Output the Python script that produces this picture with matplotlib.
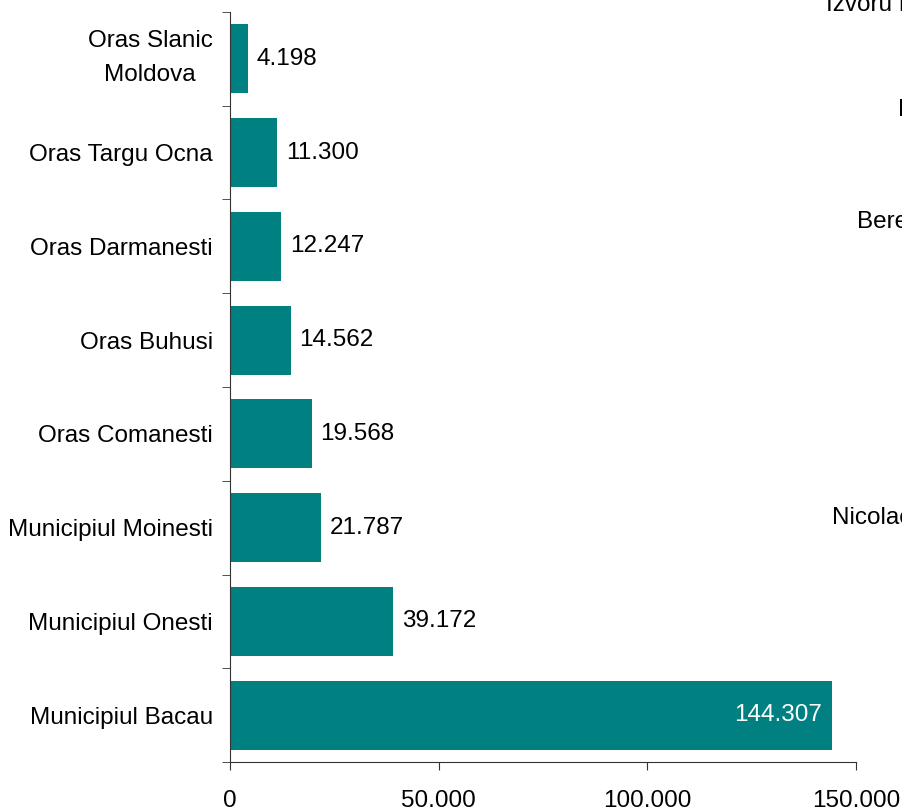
import matplotlib.pyplot as plt
from matplotlib.ticker import FuncFormatter
from matplotlib.transforms import ScaledTranslation

plt.rcParams['font.family'] = ['Liberation Sans', 'DejaVu Sans']

# populatie pe orase (de jos in sus)
orase = ['Municipiul Bacau', 'Municipiul Onesti', 'Municipiul Moinesti',
         'Oras Comanesti', 'Oras Buhusi', 'Oras Darmanesti',
         'Oras Targu Ocna', 'Oras Slanic\nMoldova']
populatie = [144307, 39172, 21787, 19568, 14562, 12247, 11300, 4198]
xticks = [0, 50000, 100000, 150000]

culoare = '#008080'
fs = 17.5


def fmt(v):
    return f"{v:,.0f}".replace(',', '.')


fig = plt.figure(figsize=(9.03, 8.08), dpi=100)
ax = fig.add_axes([230/903, 1-762/808, 626/903, 750/808])

y = range(len(orase))
ax.barh(y, populatie, height=0.735, color=culoare)
ax.set_xlim(0, 150000)
ax.set_ylim(-0.5, len(orase) - 0.5)

for i, v in enumerate(populatie):
    if v > 100000:
        ax.text(v - 2500, i, fmt(v), ha='right', va='center', color='white', fontsize=fs)
    else:
        ax.text(v + 2100, i, fmt(v), ha='left', va='center', color='black', fontsize=fs)

ax.set_yticks(list(y))
ax.set_yticklabels(orase, fontsize=fs, linespacing=1.7, multialignment='center')
ax.tick_params(axis='y', length=0, pad=12.5)
ax.set_yticks([i - 0.5 for i in range(len(orase) + 1)], minor=True)
ax.tick_params(axis='y', which='minor', length=6, direction='out', color='#333333')

# eticheta pe doua randuri sta putin mai sus
lab = ax.get_yticklabels()[-1]
lab.set_transform(lab.get_transform() + ScaledTranslation(0, 0.09, fig.dpi_scale_trans))

ax.set_xticks(xticks)
ax.xaxis.set_major_formatter(FuncFormatter(lambda v, p: fmt(v)))
ax.tick_params(axis='x', labelsize=fs, length=6, direction='out', pad=14, color='#333333')

for s in ['top', 'right']:
    ax.spines[s].set_visible(False)
for s in ['left', 'bottom']:
    ax.spines[s].set_color('#333333')

# bucati din graficul vecin
fig.text(826/903, 1-5/808, 'Izvoru B', fontsize=fs, va='center')
fig.text(898/903, 1-110/808, 'D', fontsize=fs, va='center')
fig.text(857/903, 1-222/808, 'Bere', fontsize=fs, va='center')
fig.text(832/903, 1-518/808, 'Nicolae', fontsize=fs, va='center')

fig.savefig('out.png', dpi=100)
